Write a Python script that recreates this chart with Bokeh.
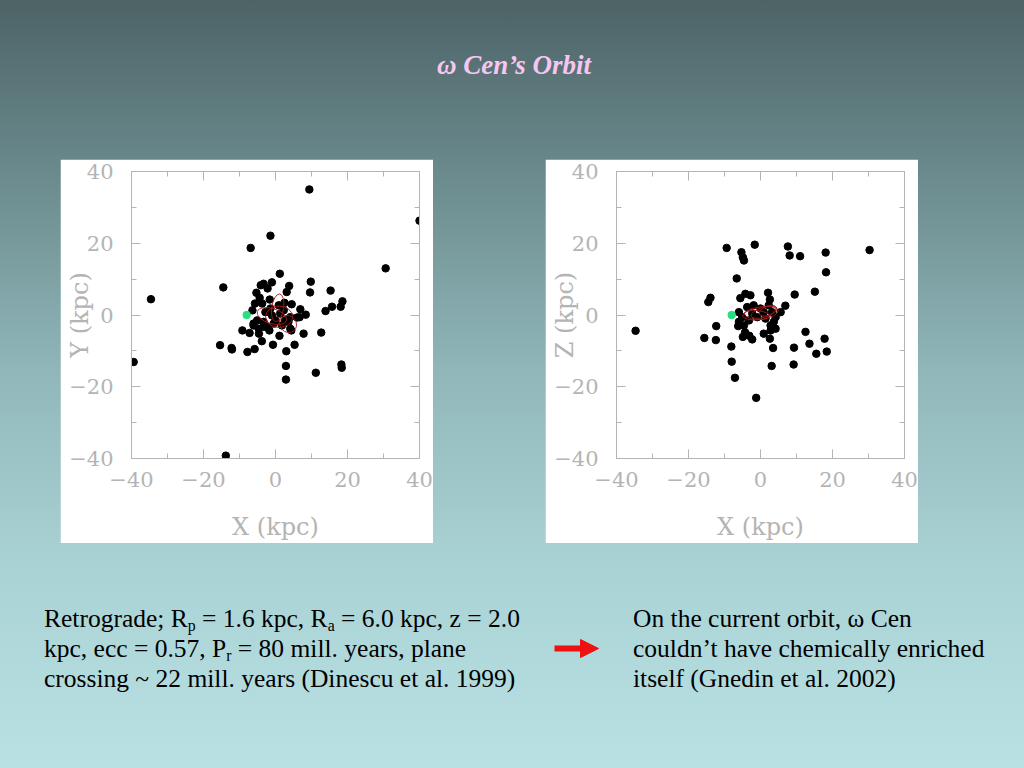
from bokeh.plotting import figure
from bokeh.models import Range1d, LinearAxis, SingleIntervalTicker, Div, Spacer, Arrow, NormalHead
from bokeh.layouts import row, column
from bokeh.embed import file_html
from bokeh.resources import INLINE

# ---------------- data ----------------
# Left panel: X-Y positions of globular clusters (kpc)
XY_X = [9.4, 40.0, -1.4, -6.9, 30.6, 1.2, -34.6, -14.5, 9.8, 9.6, 15.3, 18.6, 18.1, 15.7, 13.9, 8.4,
        6.9, 6.7, 6.0, 12.7, 7.8, 5.3, 3.0, 2.9, 2.9, 11.2, 18.3, 18.4, -39.4, -15.4, -12.2, -12.1,
        -7.8, -5.8, -3.8, -0.7, -13.8, -9.2, -7.2, -1.7, 1.1, 4.4, -4.6, -4.1, -3.3, -2.2, -1.0, 3.8,
        3.1, -5.3, -4.4, -1.6, 4.5, 2.5, -6.4, -5.7, -5.1, -6.1, -4.7, -3.3, -2.4, -1.0, 1.3, 2.7,
        3.6, 4.1, 1.8, 0.0, -2.8, -1.4, 0.9, -3.7, 2.3, 4.1, -0.5, -3.3, -6.1]
XY_Y = [35.0, 26.3, 22.1, 18.7, 13.0, 11.5, 4.4, 7.7, 9.3, 6.3, 6.8, 3.8, 2.3, 2.3, 1.1, 0.1,
        1.6, -0.6, -0.7, -4.9, -5.2, -8.3, -10.1, -14.2, -18.0, -16.1, -13.8, -14.7, -13.1, -8.4, -9.2, -9.6,
        -10.3, -9.5, -7.3, -8.3, -39.2, -4.3, -5.0, -4.3, -5.8, -4.3, -5.2, 8.3, 8.7, 7.4, 9.1, 8.1,
        6.4, 6.2, 4.8, 4.3, 3.0, 3.4, 1.3, 3.2, -1.5, -2.9, -3.8, -1.9, -3.3, -0.1, 0.4, -1.5,
        -1.9, -3.8, -2.9, -1.5, 0.8, 1.8, 2.7, 3.2, 1.3, -0.6, -2.4, -3.3, -2.4]

# Right panel: X-Z positions of globular clusters (kpc)
XZ_X = [-9.4, -1.6, -5.3, -4.9, -4.6, 7.6, 8.1, 11.0, 18.1, 30.3, 18.2, -6.6, 15.1, 9.5, -13.9, -14.5,
        -5.6, -4.2, -2.8, 2.1, 2.6, 6.9, 5.6, -34.7, -12.3, -12.4, -15.6, -8.1, -8.0, -7.1, -1.2, -6.2,
        -4.3, -4.9, -3.1, -2.3, 0.9, 2.6, 3.5, 3.1, 9.3, 9.2, 12.5, 13.6, 17.8, 18.4, 15.5, 4.2,
        2.8, -6.0, -5.1, -6.0, -3.7, -1.9, 0.0, 2.3, 3.2, 4.2, 1.4, -0.9, -3.2, -4.6, 3.7, 2.8,
        -2.3, 0.9]
XZ_Z = [18.7, 19.6, 17.5, 16.1, 15.2, 19.1, 16.6, 16.4, 17.4, 18.1, 11.9, 10.2, 6.5, 5.7, 4.8, 3.6,
        4.7, 5.9, 5.5, 6.2, 4.3, 2.6, 0.8, -4.4, -3.1, -7.0, -6.4, -8.8, -13.0, -17.5, -23.1, -3.1,
        -4.8, -6.1, -5.8, -6.8, -5.2, -6.6, -9.2, -14.2, -9.1, -13.8, -4.7, -8.0, -6.6, -10.2, -10.8, -3.8,
        -4.3, 0.8, -0.6, -1.9, 2.2, 2.7, 1.8, 2.7, 0.8, -0.6, -1.0, -0.6, -1.5, -2.9, -1.9, -2.9,
        0.4, 0.8]

# Sun position
SUN_X = [-8.0]
SUN_Y = [0.0]

# omega Cen orbit loops (centre, size, tilt)
ORB_XY_X = [0.6, -1.0, 3.5, 1.0]
ORB_XY_Y = [2.0, -0.3, -2.5, -0.5]
ORB_XY_W = [3.3, 8.5, 4.5, 7.5]
ORB_XY_H = [7.8, 4.2, 5.0, 6.0]
ORB_XY_A = [-0.15, -0.3, 0.7, 0.0]

ORB_XZ_X = [0.0, 1.0, -1.0, 2.0]
ORB_XZ_Z = [0.5, 0.8, 0.0, 1.2]
ORB_XZ_W = [10.0, 7.5, 7.0, 5.0]
ORB_XZ_H = [3.5, 2.8, 2.5, 2.5]
ORB_XZ_A = [0.15, 0.3, -0.1, 0.4]

TICK_OVERRIDES = {-40: "\u221240", -20: "\u221220", 0: "0", 20: "20", 40: "40"}

AX_COL = "#b4b4b4"
FONT = "DejaVu Serif"


def make_panel(xs, ys, ylab, ox, oy, ow, oh, oa):
    p = figure(width=373, height=384, x_range=Range1d(-40, 40), y_range=Range1d(-40, 40),
               toolbar_location=None, output_backend="svg",
               min_border_left=71, min_border_right=14, min_border_top=12, min_border_bottom=85,
               x_axis_label="X (kpc)", y_axis_label=ylab)
    p.grid.visible = False
    p.background_fill_color = "white"
    p.border_fill_color = "white"
    p.outline_line_color = AX_COL
    p.add_layout(LinearAxis(axis_label=None), "above")
    p.add_layout(LinearAxis(axis_label=None), "right")
    axes = [p.below[0], p.left[0], p.above[0], p.right[0]]
    for ax in axes:
        ax.ticker = SingleIntervalTicker(interval=20, num_minor_ticks=2)
        ax.major_tick_in = 9
        ax.major_tick_out = 0
        ax.minor_tick_in = 5
        ax.minor_tick_out = 0
        ax.axis_line_color = AX_COL
        ax.major_tick_line_color = AX_COL
        ax.minor_tick_line_color = AX_COL
        ax.major_label_text_font = FONT
        ax.major_label_text_color = AX_COL
        ax.major_label_text_font_size = "21px"
        ax.axis_label_text_font = FONT
        ax.axis_label_text_font_style = "normal"
        ax.axis_label_text_color = AX_COL
        ax.axis_label_text_font_size = "24px"
        ax.major_label_overrides = TICK_OVERRIDES
    for ax in (p.above[0], p.right[0]):
        ax.major_label_text_font_size = "1px"
        ax.major_label_text_alpha = 0
        ax.major_label_standoff = 0
    p.below[0].major_label_standoff = 13
    p.below[0].axis_label_standoff = 23
    p.left[0].major_label_standoff = 18
    p.left[0].axis_label_standoff = -28

    p.scatter(xs, ys, size=7.5, color="black")
    p.scatter(SUN_X, SUN_Y, size=7.5, color="#25e07c")
    p.ellipse(x=ox, y=oy, width=ow, height=oh, angle=oa,
              fill_color=None, line_color="#a81818", line_width=1, line_alpha=0.9)
    return p


p1 = make_panel(XY_X, XY_Y, "Y (kpc)", ORB_XY_X, ORB_XY_Y, ORB_XY_W, ORB_XY_H, ORB_XY_A)
p2 = make_panel(XZ_X, XZ_Z, "Z (kpc)", ORB_XZ_X, ORB_XZ_Z, ORB_XZ_W, ORB_XZ_H, ORB_XZ_A)

# ---------------- title ----------------
title_div = Div(
    text='<div style="font-family:\'Liberation Serif\';font-size:27px;line-height:30px;'
         'font-weight:bold;font-style:italic;color:#f6c6f1;white-space:nowrap;">'
         '\u03c9 Cen\u2019s Orbit</div>',
    width=587, height=109, margin=0)
title_block = column(Spacer(width=1024, height=50),
                     row(Spacer(width=437, height=109), title_div))

plots_row = row(Spacer(width=60, height=384), p1, Spacer(width=112, height=384), p2,
                Spacer(width=106, height=384))

# ---------------- bottom text ----------------
SUB = '<sub style="font-size:0.62em;vertical-align:-0.28em;line-height:0;">'
TXT = ('<div style="font-family:\'Liberation Serif\';font-size:25.5px;line-height:30px;'
       'color:black;white-space:nowrap;">')
left_div = Div(
    text=TXT + 'Retrograde; R' + SUB + 'p</sub> = 1.6 kpc, R' + SUB + 'a</sub> = 6.0 kpc, z = 2.0<br>'
         'kpc, ecc = 0.57, P' + SUB + 'r</sub> = 80 mill. years, plane<br>'
         'crossing ~ 22 mill. years (Dinescu et al. 1999)</div>',
    width=496, height=164, margin=0)
right_div = Div(
    text=TXT + 'On the current orbit, \u03c9 Cen<br>couldn\u2019t have chemically enriched<br>'
         'itself (Gnedin et al. 2002)</div>',
    width=391, height=164, margin=0)

arrow_fig = figure(width=93, height=225, x_range=Range1d(0, 93), y_range=Range1d(225, 0),
                   toolbar_location=None, output_backend="svg",
                   x_axis_type=None, y_axis_type=None, min_border=0)
arrow_fig.grid.visible = False
arrow_fig.background_fill_alpha = 0
arrow_fig.border_fill_alpha = 0
arrow_fig.outline_line_color = None
arrow_fig.add_layout(Arrow(end=NormalHead(size=18, fill_color="#ee1111", line_color="#ee1111"),
                           x_start=14, y_start=105, x_end=58, y_end=105,
                           line_color="#ee1111", line_width=6))

bottom_row = row(Spacer(width=44, height=225),
                 column(Spacer(width=496, height=61), left_div),
                 arrow_fig,
                 column(Spacer(width=391, height=61), right_div))

root = column(title_block, plots_row, bottom_row, margin=0,
              styles={"background": "linear-gradient(180deg, #4d6366 0%, #6b8b8e 23%, "
                                    "#90b6b9 48%, #a9d2d5 73%, #b9e1e4 100%)"})

open("out.html", "w", encoding="utf-8").write(file_html(root, INLINE))
